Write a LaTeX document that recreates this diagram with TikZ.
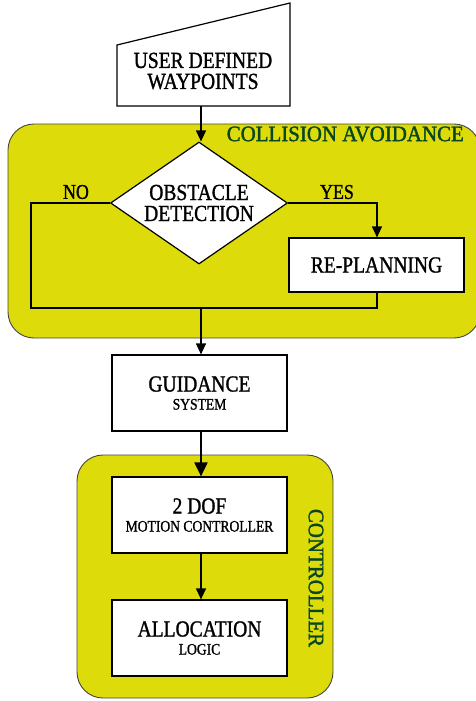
\documentclass[tikz,border=0pt]{standalone}
\usepackage{fontspec}
\setmainfont{Liberation Serif}[FakeStretch=0.85,FakeBold=1.2]
\newfontfamily\zonefont{Liberation Serif}[FakeStretch=0.95,FakeBold=1.6]
\usetikzlibrary{shapes.geometric,arrows.meta}
\definecolor{zoneyellow}{RGB}{221,219,10}
\definecolor{zonegreen}{RGB}{8,70,32}
\definecolor{zoneedge}{RGB}{70,70,60}
\tikzset{
  zone/.style={fill=zoneyellow,draw=zoneedge,line width=0.9pt,rounded corners=26pt},
  zonelabel/.style={text=zonegreen,font=\zonefont\fontsize{22}{22}\selectfont,inner sep=0pt},
  blockbox/.style={draw=black,fill=white,line width=1.2pt,align=center,inner sep=0pt},
  decision/.style={diamond,draw=black,fill=white,line width=1.2pt,align=center,inner sep=0pt,aspect=1.45},
  big/.style={font=\fontsize{23}{21}\selectfont},
  flow/.style={line width=1.2pt},
  flowarrow/.style={line width=1.2pt,-{Triangle[length=11pt,width=10pt]}},
  heavyarrow/.style={line width=2pt,-{Triangle[length=14pt,width=13pt]}},
  branch/.style={font=\fontsize{21}{21}\selectfont,inner sep=0pt},
}
\newcommand{\smalltxt}[1]{{\fontsize{16}{16}\selectfont #1}}
\begin{document}
\begin{tikzpicture}[x=1pt,y=-1pt]
\useasboundingbox (0,0) rectangle (475,701);
% zones
\path[zone] (8,124) rectangle (480,338);
\path[zone] (77,455) rectangle (333,698);
\node[zonelabel,anchor=east] (calabel) at (464,134) {COLLISION AVOIDANCE};
\node[zonelabel,rotate=-90] (ctrllabel) at (316,578) {CONTROLLER};
% manual input
\coordinate (wptl) at (117,45);
\coordinate (wptr) at (290,3);
\coordinate (wpbr) at (290,106);
\coordinate (wpbl) at (117,106);
\draw[line width=1.2pt,fill=white] (wptl) -- (wptr) -- (wpbr) -- (wpbl) -- cycle;
\node[big,align=center,inner sep=0pt] (wp) at (203,71) {USER DEFINED\\WAYPOINTS};
\coordinate (wpout) at (201,106);
% decision
\node[decision,big,minimum width=177pt,minimum height=122pt] (obs) at (199,203) {OBSTACLE\\DETECTION};
\node[branch] (no) at (76,192) {NO};
\node[branch] (yes) at (337,192) {YES};
% replanning
\node[blockbox,big,minimum width=175pt,minimum height=54pt] (rep) at (376.5,265) {RE-PLANNING};
\coordinate (yescorner) at (377,203);
\coordinate (noleft) at (31,203);
\coordinate (nobottom) at (31,308);
\coordinate (merge) at (201,308);
\coordinate (repbottom) at (377,308);
% guidance
\node[blockbox,big,minimum width=175pt,minimum height=76pt] (gui) at (199.5,393) {GUIDANCE\\[-3pt]\smalltxt{SYSTEM}};
% motion controller
\node[blockbox,big,minimum width=175pt,minimum height=76pt] (mot) at (199.5,515) {2 DOF\\[-3pt]\smalltxt{MOTION CONTROLLER}};
% allocation
\node[blockbox,big,minimum width=175pt,minimum height=76pt] (alloc) at (199.5,638) {ALLOCATION\\[-3pt]\smalltxt{LOGIC}};
% connectors
\draw[flowarrow] (wpout) -- (wpout |- obs.north);
\draw[flowarrow] (obs.east) -- (yescorner) -- (rep.north -| yescorner);
\draw[flow] (obs.west) -- (noleft) -- (nobottom) -- (repbottom) -- (rep.south -| repbottom);
\draw[flowarrow] (merge) -- (merge |- gui.north);
\draw[heavyarrow] (gui.south -| merge) -- (mot.north -| merge);
\draw[flowarrow] (mot.south -| merge) -- (alloc.north -| merge);
\end{tikzpicture}
\end{document}
